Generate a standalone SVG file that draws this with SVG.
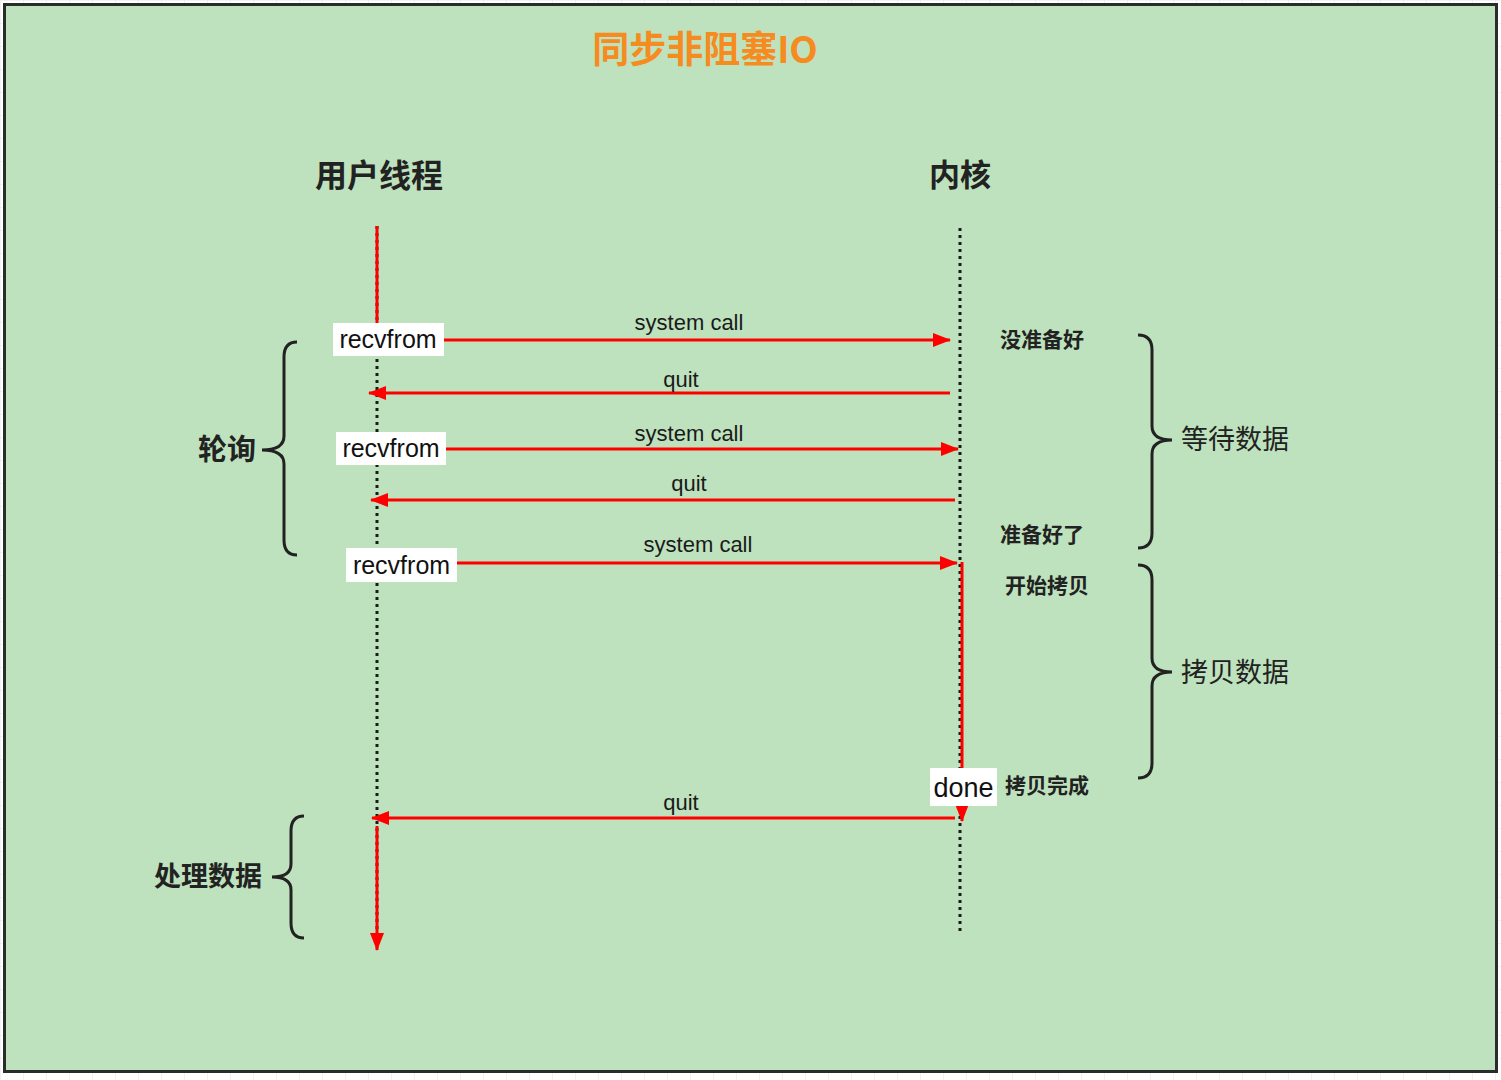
<svg xmlns="http://www.w3.org/2000/svg" width="1501" height="1080" viewBox="0 0 1501 1080">
<defs>
<pattern id="grid" width="23" height="23" patternUnits="userSpaceOnUse">
<path d="M23 0 L0 0 0 23" fill="none" stroke="#e4e4e4" stroke-width="1"/>
</pattern>
<marker id="ah" viewBox="0 0 18 14" refX="17" refY="7" markerWidth="18" markerHeight="14" markerUnits="userSpaceOnUse" orient="auto">
<path d="M0,0 L18,7 L0,14 Z" fill="#ff0000"/>
</marker>
<style>
.cjk{font-family:"Noto Sans CJK SC","Noto Sans",sans-serif;fill:#222}
.lat{font-family:"Liberation Sans",Arial,sans-serif;fill:#111}
.lbl{font-family:"Liberation Sans",Arial,sans-serif;fill:#1a1a1a;font-size:22px;text-anchor:middle}
.msg{stroke:#ff0000;stroke-width:3;fill:none}
.life{stroke:#1a1a1a;stroke-width:3;stroke-dasharray:3 4;fill:none}
.brace{stroke:#222;stroke-width:3;fill:none}
.box{fill:#ffffff}
</style>
</defs>
<rect x="0" y="0" width="1501" height="1080" fill="#ffffff"/>
<rect x="0" y="0" width="1501" height="1080" fill="url(#grid)"/>
<rect x="4.5" y="4.5" width="1492" height="1067" fill="#bee2bd" stroke="#2b2b2b" stroke-width="3"/>

<g id="title"><text x="705" y="63" class="cjk" style="fill:#f68b1f;font-size:37px;font-weight:bold" text-anchor="middle">同步非阻塞IO</text></g>
<g id="user-thread"><text x="379" y="187" class="cjk" style="font-size:32px;font-weight:bold" text-anchor="middle">用户线程</text></g>
<g id="kernel"><text x="960" y="186" class="cjk" style="font-size:31px;font-weight:bold" text-anchor="middle">内核</text></g>

<g id="connectors">
<line class="life" x1="377" y1="226" x2="377" y2="945"/>
<line class="life" x1="960" y1="228" x2="960" y2="935"/>
<line class="msg" x1="377" y1="226" x2="377" y2="325"/>
<line class="msg" x1="377" y1="826" x2="377" y2="950" marker-end="url(#ah)"/>
<line class="msg" x1="962" y1="562" x2="962" y2="821" marker-end="url(#ah)"/>
<line class="msg" x1="444" y1="340" x2="950" y2="340" marker-end="url(#ah)"/>
<line class="msg" x1="950" y1="393" x2="369" y2="393" marker-end="url(#ah)"/>
<line class="msg" x1="446" y1="449" x2="958" y2="449" marker-end="url(#ah)"/>
<line class="msg" x1="955" y1="500" x2="371" y2="500" marker-end="url(#ah)"/>
<line class="msg" x1="457" y1="563" x2="957" y2="563" marker-end="url(#ah)"/>
<line class="msg" x1="955" y1="818" x2="372" y2="818" marker-end="url(#ah)"/>
<text class="lbl" x="689" y="330">system call</text>
<text class="lbl" x="681" y="387">quit</text>
<text class="lbl" x="689" y="441">system call</text>
<text class="lbl" x="689" y="491">quit</text>
<text class="lbl" x="698" y="552">system call</text>
<text class="lbl" x="681" y="810">quit</text>
</g>

<g id="recvfrom-1"><rect class="box" x="333" y="323" width="111" height="33"/><text class="lat" x="388" y="348" style="font-size:25px" text-anchor="middle">recvfrom</text></g>
<g id="recvfrom-2"><rect class="box" x="336" y="432" width="110" height="33"/><text class="lat" x="391" y="457" style="font-size:25px" text-anchor="middle">recvfrom</text></g>
<g id="recvfrom-3"><rect class="box" x="346" y="548" width="111" height="34"/><text class="lat" x="401.5" y="574" style="font-size:25px" text-anchor="middle">recvfrom</text></g>
<g id="done"><rect class="box" x="930" y="768" width="67" height="38"/><text class="lat" x="963.5" y="797" style="font-size:27px" text-anchor="middle">done</text></g>

<g id="not-ready"><text class="cjk" x="1000" y="347" style="font-size:21px;font-weight:bold">没准备好</text></g>
<g id="ready"><text class="cjk" x="1000" y="542" style="font-size:21px;font-weight:bold">准备好了</text></g>
<g id="start-copy"><text class="cjk" x="1005" y="593" style="font-size:21px;font-weight:bold">开始拷贝</text></g>
<g id="copy-done"><text class="cjk" x="1005" y="793" style="font-size:21px;font-weight:bold">拷贝完成</text></g>

<g id="wait-data"><path class="brace" d="M1138,335 Q1152,335 1152,350 L1152,426 Q1152,440 1172,440 Q1152,440 1152,454 L1152,533 Q1152,548 1138,548"/><text class="cjk" x="1181" y="449" style="font-size:27px">等待数据</text></g>
<g id="copy-data"><path class="brace" d="M1138,565 Q1152,565 1152,580 L1152,658 Q1152,672 1172,672 Q1152,672 1152,686 L1152,763 Q1152,778 1138,778"/><text class="cjk" x="1181" y="682" style="font-size:27px">拷贝数据</text></g>
<g id="polling"><path class="brace" d="M297,342 Q284,342 284,357 L284,436 Q284,450 262,450 Q284,450 284,464 L284,540 Q284,555 297,555"/><text class="cjk" x="198" y="460" style="font-size:29px;font-weight:bold">轮询</text></g>
<g id="process-data"><path class="brace" d="M304,816 Q291,816 291,831 L291,864 Q291,877 272,877 Q291,877 291,890 L291,923 Q291,938 304,938"/><text class="cjk" x="154" y="886" style="font-size:27px;font-weight:bold">处理数据</text></g>
</svg>
